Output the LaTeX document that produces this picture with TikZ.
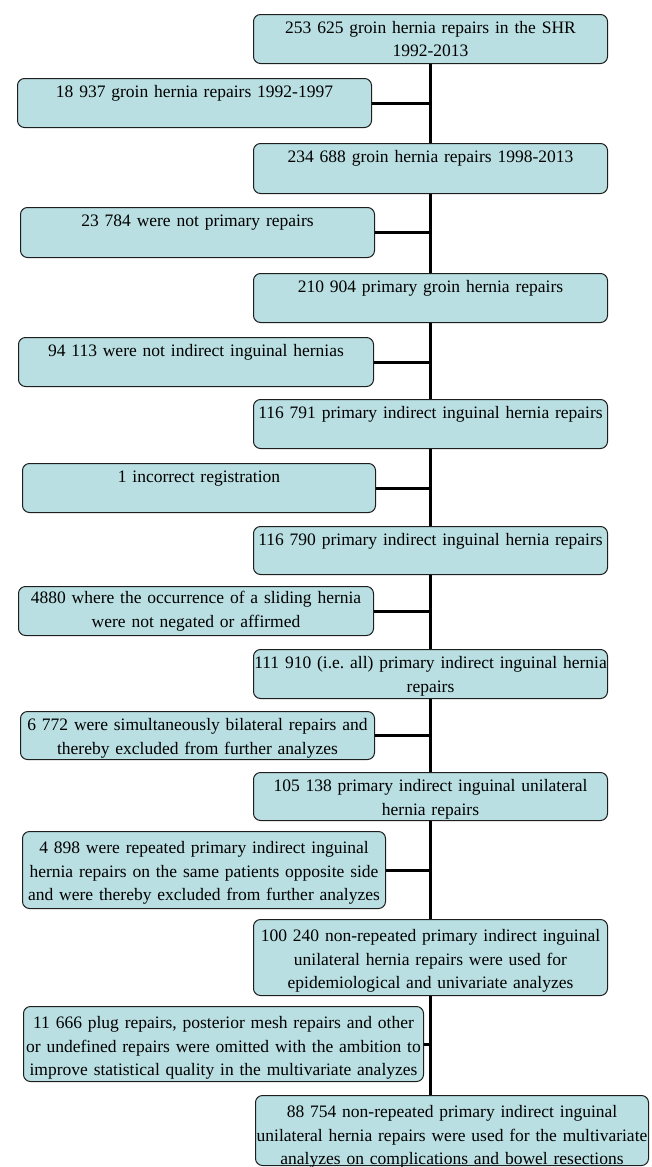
\documentclass[tikz,border=0pt]{standalone}
\usepackage{fontspec}
\setmainfont{Liberation Serif}
\frenchspacing
\definecolor{boxfill}{HTML}{B9DFE2}
\definecolor{boxline}{HTML}{1E1E1E}
\tikzset{
  flow/.style={draw=boxline, line width=1pt, fill=boxfill, rounded corners=7pt,
    anchor=north west, align=center, inner xsep=0pt, inner ysep=6pt,
    text height=13pt, text depth=#1,
    font=\fontsize{17.5}{23.5}\selectfont},
  link/.style={line width=3pt, black}
}

\begin{document}
\begin{tikzpicture}[x=1pt,y=-1pt]
    \useasboundingbox (0,0) rectangle (652,1167);
    % main column
    \node[flow=24pt, text width=354pt] (b1) at (253,14) {253 625 groin hernia repairs in the SHR\\1992-2013};
    \node[flow=25pt, text width=354pt] (b2) at (253,143) {234 688 groin hernia repairs 1998-2013};
    \node[flow=24pt, text width=354pt] (b3) at (253,273) {210 904 primary groin hernia repairs};
    \node[flow=24pt, text width=354pt] (b4) at (253,399) {116 791 primary indirect inguinal hernia repairs};
    \node[flow=23pt, text width=354pt] (b5) at (253,526) {116 790 primary indirect inguinal hernia repairs};
    \node[flow=24pt, text width=354pt] (b6) at (253,649) {\mbox{111 910 (i.e. all) primary indirect inguinal hernia}\\repairs};
    \node[flow=23pt, text width=354pt] (b7) at (253,772) {105 138 primary indirect inguinal unilateral\\hernia repairs};
    \node[flow=48pt, text height=16pt, text width=354pt] (b8) at (253,919) {100 240 non-repeated primary indirect inguinal\\unilateral hernia repairs were used for\\epidemiological and univariate analyzes};
    \node[flow=42pt, text height=16pt, text width=393pt] (b9) at (255,1095) {88 754 non-repeated primary indirect inguinal\\unilateral hernia repairs were used for the multivariate\\analyzes on complications and bowel resections};
    % excluded
    \node[flow=24pt, text width=354pt] (l1) at (17,78) {18 937 groin hernia repairs 1992-1997};
    \node[flow=25pt, text width=354pt] (l2) at (20,207) {23 784 were not primary repairs};
    \node[flow=24pt, text width=355pt] (l3) at (18,337) {94 113 were not indirect inguinal hernias};
    \node[flow=24pt, text width=353pt] (l4) at (22,463) {1 incorrect registration};
    \node[flow=26pt, text height=11pt, text width=355pt] (l5) at (18,586) {4880 where the occurrence of a sliding hernia\\were not negated or affirmed};
    \node[flow=23pt, text width=354pt] (l6) at (20,711) {6 772 were simultaneously bilateral repairs and\\thereby excluded from further analyzes};
    \node[flow=49pt, text height=16pt, text width=363pt] (l7) at (22,831) {4 898 were repeated primary indirect inguinal\\hernia repairs on the same patients opposite side\\and were thereby excluded from further analyzes};
    \node[flow=47pt, text height=16pt, text width=400pt] (l8) at (23,1006) {11 666 plug repairs, posterior mesh repairs and other\\or undefined repairs were omitted with the ambition to\\improve statistical quality in the multivariate analyzes};

    \draw[link] (b1.south) -- (b2.north);
    \draw[link] (b2.south) -- (b3.north);
    \draw[link] (b3.south) -- (b4.north);
    \draw[link] (b4.south) -- (b5.north);
    \draw[link] (b5.south) -- (b6.north);
    \draw[link] (b6.south) -- (b7.north);
    \draw[link] (b7.south) -- (b8.north);
    \draw[link] (b8.south) -- (b8.south |- b9.north);
    \draw[link] (l1.east) -- (l1.east -| b1.south);
    \draw[link] (l2.east) -- (l2.east -| b2.south);
    \draw[link] (l3.east) -- (l3.east -| b3.south);
    \draw[link] (l4.east) -- (l4.east -| b4.south);
    \draw[link] (l5.east) -- (l5.east -| b5.south);
    \draw[link] (l6.east) -- (l6.east -| b6.south);
    \draw[link] (l7.east) -- (l7.east -| b7.south);
    \draw[link] (l8.east) -- (l8.east -| b8.south);
    
\end{tikzpicture}
\end{document}
